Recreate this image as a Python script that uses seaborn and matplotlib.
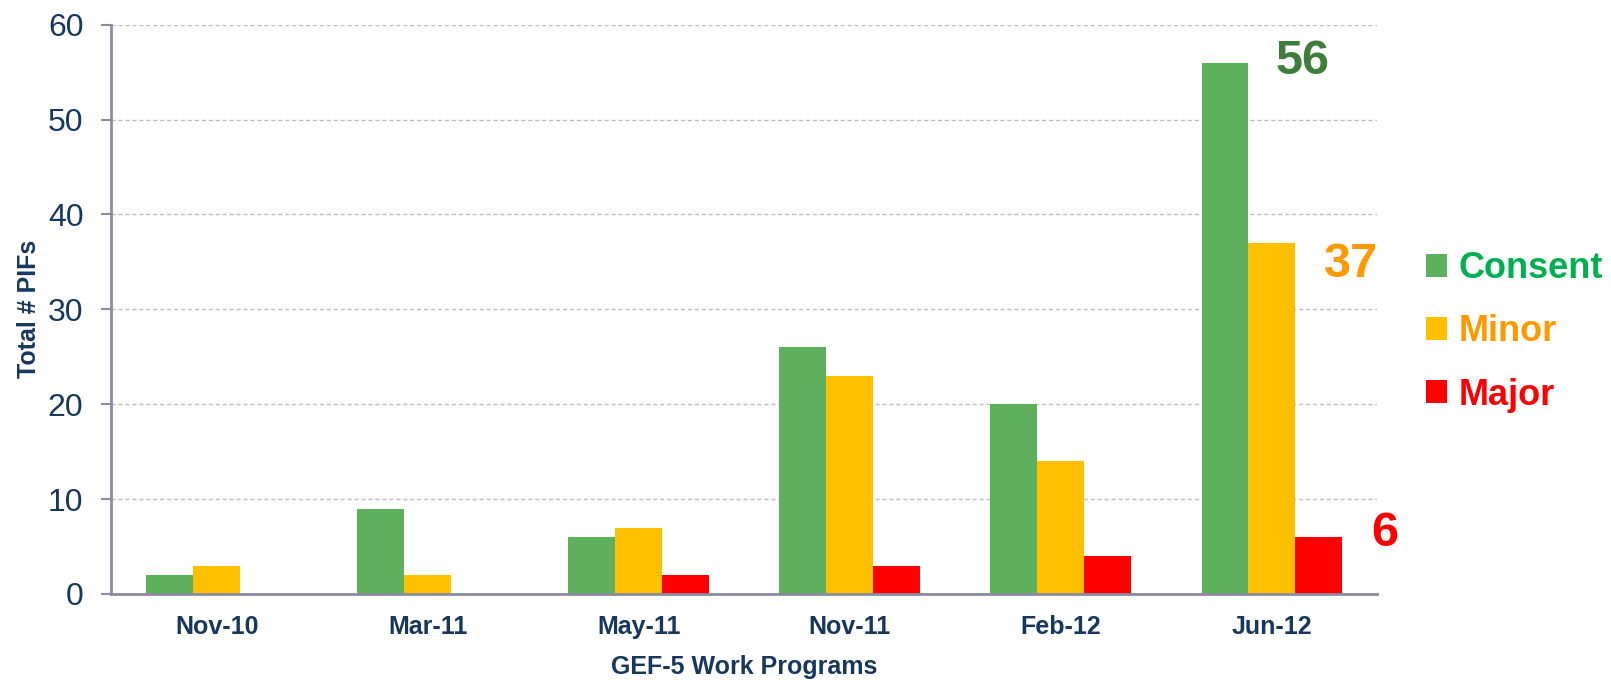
import matplotlib
matplotlib.use("Agg")
import matplotlib.pyplot as plt
from matplotlib.patches import Patch
import pandas as pd
import seaborn as sns

programs = ["Nov-10", "Mar-11", "May-11", "Nov-11", "Feb-12", "Jun-12"]
consent = [2, 9, 6, 26, 20, 56]
minor = [3, 2, 7, 23, 14, 37]
major = [0, 0, 2, 3, 4, 6]
series = ["Consent", "Minor", "Major"]

bar_colors = {"Consent": "#5EAF5E", "Minor": "#FFC000", "Major": "#FF0000"}
text_colors = {"Consent": "#00B050", "Minor": "#FF9900", "Major": "#FF0000"}
note_colors = {"Consent": "#3E7D3C", "Minor": "#FF9900", "Major": "#FF0000"}
navy = "#17375E"

df = pd.DataFrame({
    "program": programs * 3,
    "type": ["Consent"] * 6 + ["Minor"] * 6 + ["Major"] * 6,
    "count": consent + minor + major,
})

sns.set_style("white")
plt.rcParams["font.family"] = ["Liberation Sans", "DejaVu Sans"]

fig = plt.figure(figsize=(16.11, 6.8), dpi=100)
ax = fig.add_axes([0.069, 0.1265, 0.786, 0.8372])

sns.barplot(
    data=df, x="program", y="count", hue="type",
    order=programs, hue_order=series, palette=bar_colors,
    width=0.667, saturation=1, linewidth=0, legend=False, ax=ax,
)

ax.set_xlim(-0.5, 5.5)
ax.set_ylim(0, 60)
ax.set_yticks(range(0, 61, 10))
ax.yaxis.grid(True, color="#BDBDC8", linestyle=(0, (3, 2)), linewidth=1)
ax.set_axisbelow(True)

for side in ["top", "right"]:
    ax.spines[side].set_visible(False)
for side in ["left", "bottom"]:
    ax.spines[side].set_color("#8A8CA0")
    ax.spines[side].set_linewidth(2)

ax.tick_params(axis="y", labelsize=23, labelcolor=navy, color="#8A8CA0",
               length=7, width=1.5, pad=13, left=True)
ax.tick_params(axis="x", length=0, pad=15)
for lab in ax.get_xticklabels():
    lab.set_fontsize(18)
    lab.set_fontweight("bold")
    lab.set_color(navy)

ax.set_xlabel("GEF-5 Work Programs", fontsize=18, fontweight="bold",
              color=navy, labelpad=12)
ax.set_ylabel("Total # PIFs", fontsize=18, fontweight="bold",
              color=navy, labelpad=5)

# big value callouts for the last work program
last = {"Consent": consent[-1], "Minor": minor[-1], "Major": major[-1]}
offsets = {"Consent": (0.145, 0.1), "Minor": (0.377, -2.3), "Major": (0.533, 0.4)}
for s in series:
    dx, dy = offsets[s]
    ax.text(len(programs) - 1 + dx, last[s] + dy, str(last[s]),
            color=note_colors[s], fontsize=35, fontweight="bold",
            ha="center", va="center")

handles = [Patch(facecolor=bar_colors[s], edgecolor="none") for s in series]
leg = fig.legend(
    handles, series, loc="center left", bbox_to_anchor=(0.885, 0.512),
    frameon=False, handlelength=0.6, handleheight=0.6, handletextpad=0.3,
    labelspacing=0.78, borderpad=0, borderaxespad=0,
    prop={"size": 26, "weight": "bold"},
    labelcolor=[text_colors[s] for s in series],
)

fig.savefig("out.png", dpi=100)
